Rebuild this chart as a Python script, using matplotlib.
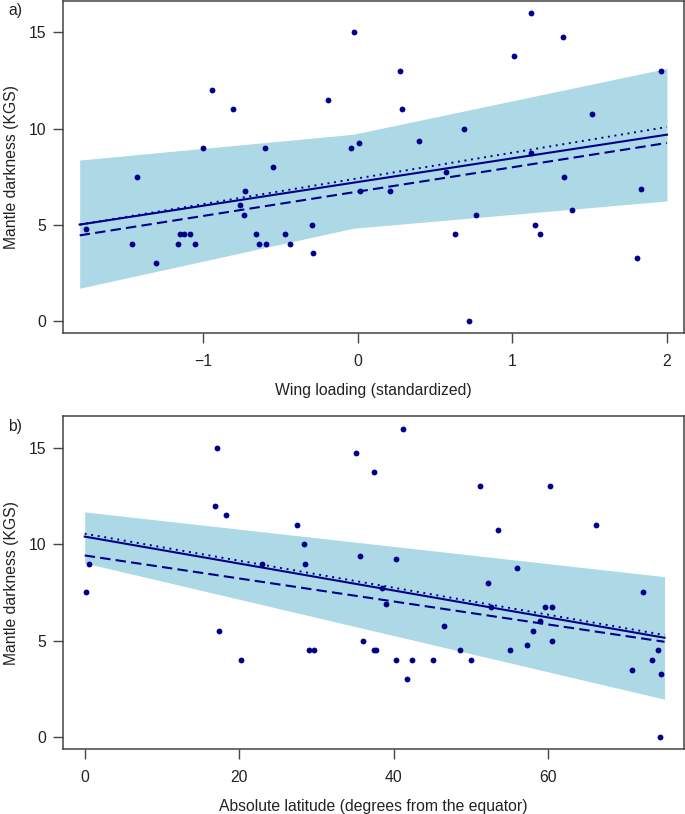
import numpy as np
import matplotlib
matplotlib.use('Agg')
import matplotlib.pyplot as plt

plt.rcParams['font.family'] = ['Liberation Sans', 'DejaVu Sans']

# panel a) wing loading (standardized) vs mantle darkness
wing = [-1.76, -1.46, -1.43, -1.305, -1.166, -1.149, -1.127, -1.084, -1.052, -1.0,
        -0.942, -0.806, -0.765, -0.739, -0.729, -0.658, -0.638, -0.604, -0.595, -0.548,
        -0.472, -0.438, -0.298, -0.293, -0.196, -0.043, -0.028, 0.009, 0.011, 0.211,
        0.27, 0.285, 0.395, 0.567, 0.627, 0.684, 0.716, 0.763, 1.007, 1.117,
        1.121, 1.147, 1.177, 1.328, 1.332, 1.386, 1.514, 1.809, 1.83, 1.96]
dark_a = [4.75, 4, 7.5, 3, 4, 4.5, 4.5, 4.5, 4, 9,
          12, 11, 6, 5.5, 6.75, 4.5, 4, 9, 4, 8,
          4.5, 4, 5, 3.5, 11.5, 9, 15, 9.25, 6.75, 6.75,
          13, 11, 9.375, 7.75, 4.5, 10, 0, 5.5, 13.75, 8.75,
          16, 5, 4.5, 14.75, 7.5, 5.75, 10.75, 3.25, 6.875, 13]
fit_x_a = [-1.8, 2.0]
solid_a = [5.0, 9.68]
dashed_a = [4.44, 9.25]
dotted_a = [5.0, 10.08]
band_x_a = [-1.8, -0.03, 2.0]
band_lo_a = [1.69, 4.81, 6.23]
band_hi_a = [8.36, 9.70, 13.13]

# panel b) absolute latitude vs mantle darkness
lat = [0.13, 0.52, 16.88, 17.14, 17.4, 18.3, 20.25, 22.93, 27.46, 28.45,
       28.5, 29.06, 29.66, 35.1, 35.7, 36.05, 37.47, 37.5, 37.7, 38.5,
       39.07, 40.28, 40.36, 41.27, 41.7, 42.35, 45.16, 46.5, 48.6, 49.96,
       51.24, 52.2, 52.63, 53.5, 55.05, 55.96, 57.3, 58.06, 58.98, 59.6,
       60.23, 60.57, 60.57, 66.27, 70.9, 72.3, 73.4, 74.3, 74.48, 74.65]
dark_b = [7.5, 9, 12, 15, 5.5, 11.5, 4, 9, 11, 10,
          9, 4.5, 4.5, 14.75, 9.375, 5, 13.75, 4.5, 4.5, 7.75,
          6.875, 4, 9.25, 16, 3, 4, 4, 5.75, 4.5, 4,
          13, 8, 6.75, 10.75, 4.5, 8.75, 4.75, 5.5, 6, 6.75,
          13, 6.75, 5, 11, 3.5, 7.5, 4, 4.5, 0, 3.25]
fit_x_b = [0, 75.08]
solid_b = [10.4, 5.15]
dashed_b = [9.42, 4.94]
dotted_b = [10.55, 5.29]
band_x_b = [0, 75.08]
band_lo_b = [9.03, 1.96]
band_hi_b = [11.68, 8.32]

navy = '#00008B'
fs = 11.3

fig = plt.figure(figsize=(6.85, 8.14), dpi=100)
ax1 = fig.add_axes([0.0915, 0.5909, 0.907, 0.408])
ax2 = fig.add_axes([0.0915, 0.0795, 0.907, 0.409])


def panel(ax, bx, lo, hi, fx, s, d, dt, x, y):
    ax.fill_between(bx, lo, hi, color='#ADD8E6', linewidth=0, zorder=1)
    ax.plot(fx, s, color=navy, lw=1.5, zorder=2)
    ax.plot(fx, d, color=navy, lw=1.5, dashes=(5, 2.5), zorder=2)
    ax.plot(fx, dt, color=navy, lw=1.4, dashes=(1, 2.4), zorder=2)
    ax.plot(x, y, 'o', color=navy, ms=4.2, mec='none', zorder=3)
    for sp in ax.spines.values():
        sp.set_color('#444444')
        sp.set_linewidth(1.1)
    ax.tick_params(direction='out', length=7, width=1, color='#444444',
                   labelsize=fs, labelcolor='#222222')
    ax.tick_params(axis='x', pad=8)
    ax.tick_params(axis='y', pad=5)
    ax.set_yticks([0, 5, 10, 15])
    ax.set_ylim(-0.64, 16.64)
    ax.set_ylabel('Mantle darkness (KGS)', fontsize=fs, color='#222222')
    ax.yaxis.set_label_coords(-0.071, 0.5)


panel(ax1, band_x_a, band_lo_a, band_hi_a, fit_x_a, solid_a, dashed_a, dotted_a, wing, dark_a)
ax1.set_xlim(-1.91, 2.11)
ax1.set_xticks([-1, 0, 1, 2])
ax1.set_xticklabels(['\u22121', '0', '1', '2'])
ax1.set_xlabel('Wing loading (standardized)', fontsize=fs, color='#222222', labelpad=10)

panel(ax2, band_x_b, band_lo_b, band_hi_b, fit_x_b, solid_b, dashed_b, dotted_b, lat, dark_b)
ax2.set_xlim(-2.85, 77.6)
ax2.set_xticks([0, 20, 40, 60])
ax2.set_xlabel('Absolute latitude (degrees from the equator)', fontsize=fs, color='#222222', labelpad=10)

fig.text(15 / 685, 1 - 11 / 814, 'a)', fontsize=fs, ha='center', va='center', color='#222222')
fig.text(15 / 685, 1 - 426 / 814, 'b)', fontsize=fs, ha='center', va='center', color='#222222')

fig.savefig('out.png', dpi=100)
